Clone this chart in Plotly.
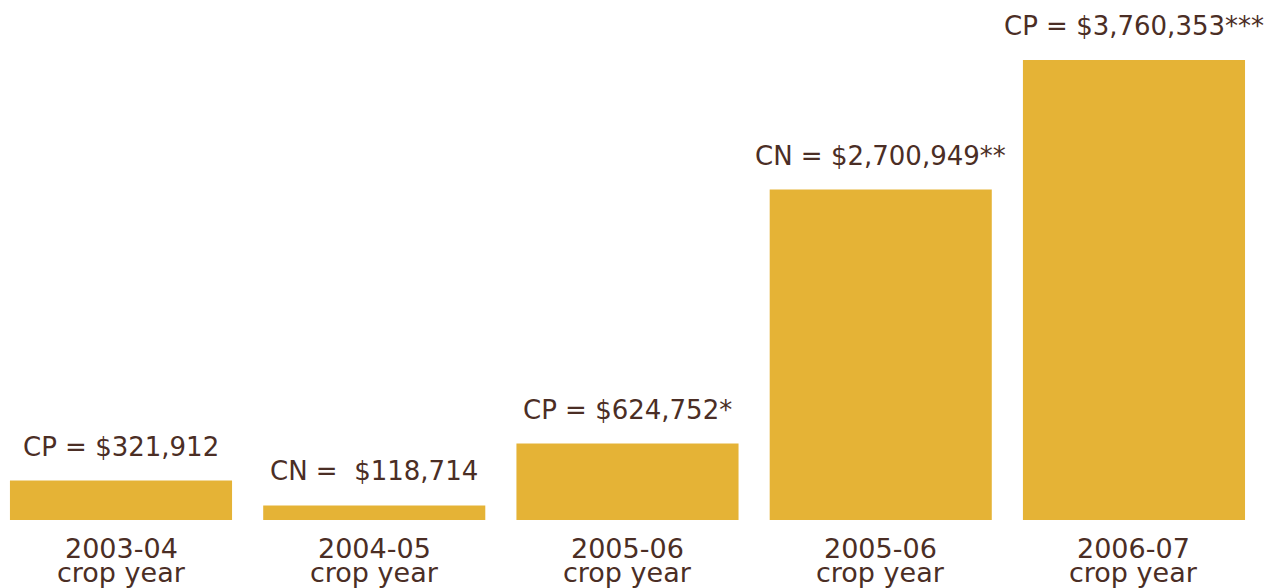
import plotly.graph_objects as go

years = ["2003-04", "2004-05", "2005-06", "2005-06", "2006-07"]
sub_label = "crop year"
prefixes = ["CP = ", "CN =\u00a0 ", "CP = ", "CN = ", "CP = "]
values = [321912, 118714, 624752, 2700949, 3760353]
suffixes = ["", "", "*", "**", "***"]

bar_color = "#E5B336"
text_color = "#4B2E25"
font_family = "DejaVu Sans"

xs = list(range(len(values)))

fig = go.Figure()
fig.add_trace(go.Bar(
    x=xs, y=values, width=0.877,
    marker=dict(color=bar_color, line=dict(width=0)),
    hoverinfo="skip",
))

annotations = []
for x, p, v, s in zip(xs, prefixes, values, suffixes):
    annotations.append(dict(
        x=x, y=v, xref="x", yref="y", text=f"{p}${v:,}{s}",
        showarrow=False, yanchor="bottom", yshift=17,
        font=dict(family=font_family, size=26, color=text_color),
    ))
for x, yr in zip(xs, years):
    annotations.append(dict(
        x=x, y=0, xref="x", yref="paper", text=yr,
        showarrow=False, yanchor="top", yshift=-11,
        font=dict(family=font_family, size=27, color=text_color),
    ))
    annotations.append(dict(
        x=x, y=0, xref="x", yref="paper", text=sub_label,
        showarrow=False, yanchor="top", yshift=-35,
        font=dict(family=font_family, size=27, color=text_color),
    ))

fig.update_layout(
    width=1272, height=588,
    margin=dict(l=0, r=0, t=0, b=68),
    paper_bgcolor="white", plot_bgcolor="white",
    showlegend=False,
    xaxis=dict(range=[-0.4778, 4.545], showticklabels=False, showgrid=False,
               zeroline=False, showline=False, ticks=""),
    yaxis=dict(range=[0, 4250000], showticklabels=False, showgrid=False,
               zeroline=False, showline=False, ticks=""),
    annotations=annotations,
)

fig.write_html("out.html", config={"displayModeBar": False},
               post_script="document.body.style.margin='0';document.body.style.overflow='hidden';")
